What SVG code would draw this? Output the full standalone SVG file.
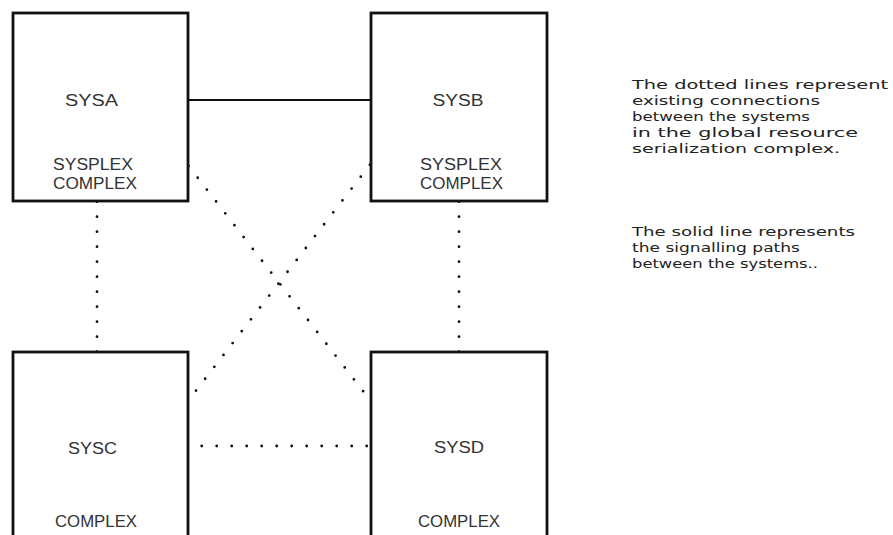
<svg xmlns="http://www.w3.org/2000/svg" width="893" height="535" viewBox="0 0 893 535">
<style>
.box{fill:#fff;stroke:#111;stroke-width:2.8}
.lbl{font-family:"Liberation Sans",Arial,sans-serif;font-size:16px;fill:#333;text-anchor:middle}
.note{font-family:"DejaVu Sans","Liberation Sans",sans-serif;font-size:13px;fill:#222}
.solid{stroke:#111;stroke-width:2.2;fill:none}
.dot{stroke:#111;stroke-width:2.8;fill:none;stroke-linecap:round;stroke-dasharray:0 15}
</style>
<rect width="893" height="535" fill="#fff"/>
<g id="connectors">
<line class="solid" x1="188" y1="100" x2="371" y2="100"/>
<line class="dot" x1="97" y1="201.7" x2="97" y2="352"/>
<line class="dot" x1="459" y1="201.7" x2="459" y2="352"/>
<line class="dot" x1="186.7" y1="446" x2="371" y2="446"/>
<line class="dot" x1="188.5" y1="165.9" x2="372.2" y2="402.9"/>
<line class="dot" x1="369.9" y1="164.8" x2="186.8" y2="402.6"/>
</g>
<g id="sysa">
<rect class="box" x="13" y="13" width="175" height="188"/>
<text class="lbl" x="91.5" y="106" textLength="53" lengthAdjust="spacingAndGlyphs">SYSA</text>
<text class="lbl" x="93" y="170" textLength="80" lengthAdjust="spacingAndGlyphs">SYSPLEX</text>
<text class="lbl" x="95" y="189" textLength="84" lengthAdjust="spacingAndGlyphs">COMPLEX</text>
</g>
<g id="sysb">
<rect class="box" x="371" y="13" width="176" height="188"/>
<text class="lbl" x="458" y="106" textLength="51" lengthAdjust="spacingAndGlyphs">SYSB</text>
<text class="lbl" x="461" y="170" textLength="82" lengthAdjust="spacingAndGlyphs">SYSPLEX</text>
<text class="lbl" x="461.5" y="189" textLength="83" lengthAdjust="spacingAndGlyphs">COMPLEX</text>
</g>
<g id="sysc">
<rect class="box" x="13" y="352" width="175" height="200"/>
<text class="lbl" x="92.5" y="454" textLength="49" lengthAdjust="spacingAndGlyphs">SYSC</text>
<text class="lbl" x="96" y="527" textLength="82" lengthAdjust="spacingAndGlyphs">COMPLEX</text>
</g>
<g id="sysd">
<rect class="box" x="371" y="352" width="176" height="200"/>
<text class="lbl" x="459" y="453" textLength="50" lengthAdjust="spacingAndGlyphs">SYSD</text>
<text class="lbl" x="459" y="527" textLength="82" lengthAdjust="spacingAndGlyphs">COMPLEX</text>
</g>
<g id="notes">
<text class="note" x="632" y="89" textLength="256" lengthAdjust="spacingAndGlyphs">The dotted lines represent</text>
<text class="note" x="632" y="105" textLength="188" lengthAdjust="spacingAndGlyphs">existing connections</text>
<text class="note" x="632" y="121" textLength="178" lengthAdjust="spacingAndGlyphs">between the systems</text>
<text class="note" x="632" y="137" textLength="226" lengthAdjust="spacingAndGlyphs">in the global resource</text>
<text class="note" x="632" y="153" textLength="208" lengthAdjust="spacingAndGlyphs">serialization complex.</text>
<text class="note" x="632" y="236" textLength="223" lengthAdjust="spacingAndGlyphs">The solid line represents</text>
<text class="note" x="632" y="252" textLength="168" lengthAdjust="spacingAndGlyphs">the signalling paths</text>
<text class="note" x="632" y="268" textLength="186" lengthAdjust="spacingAndGlyphs">between the systems..</text>
</g>
</svg>
